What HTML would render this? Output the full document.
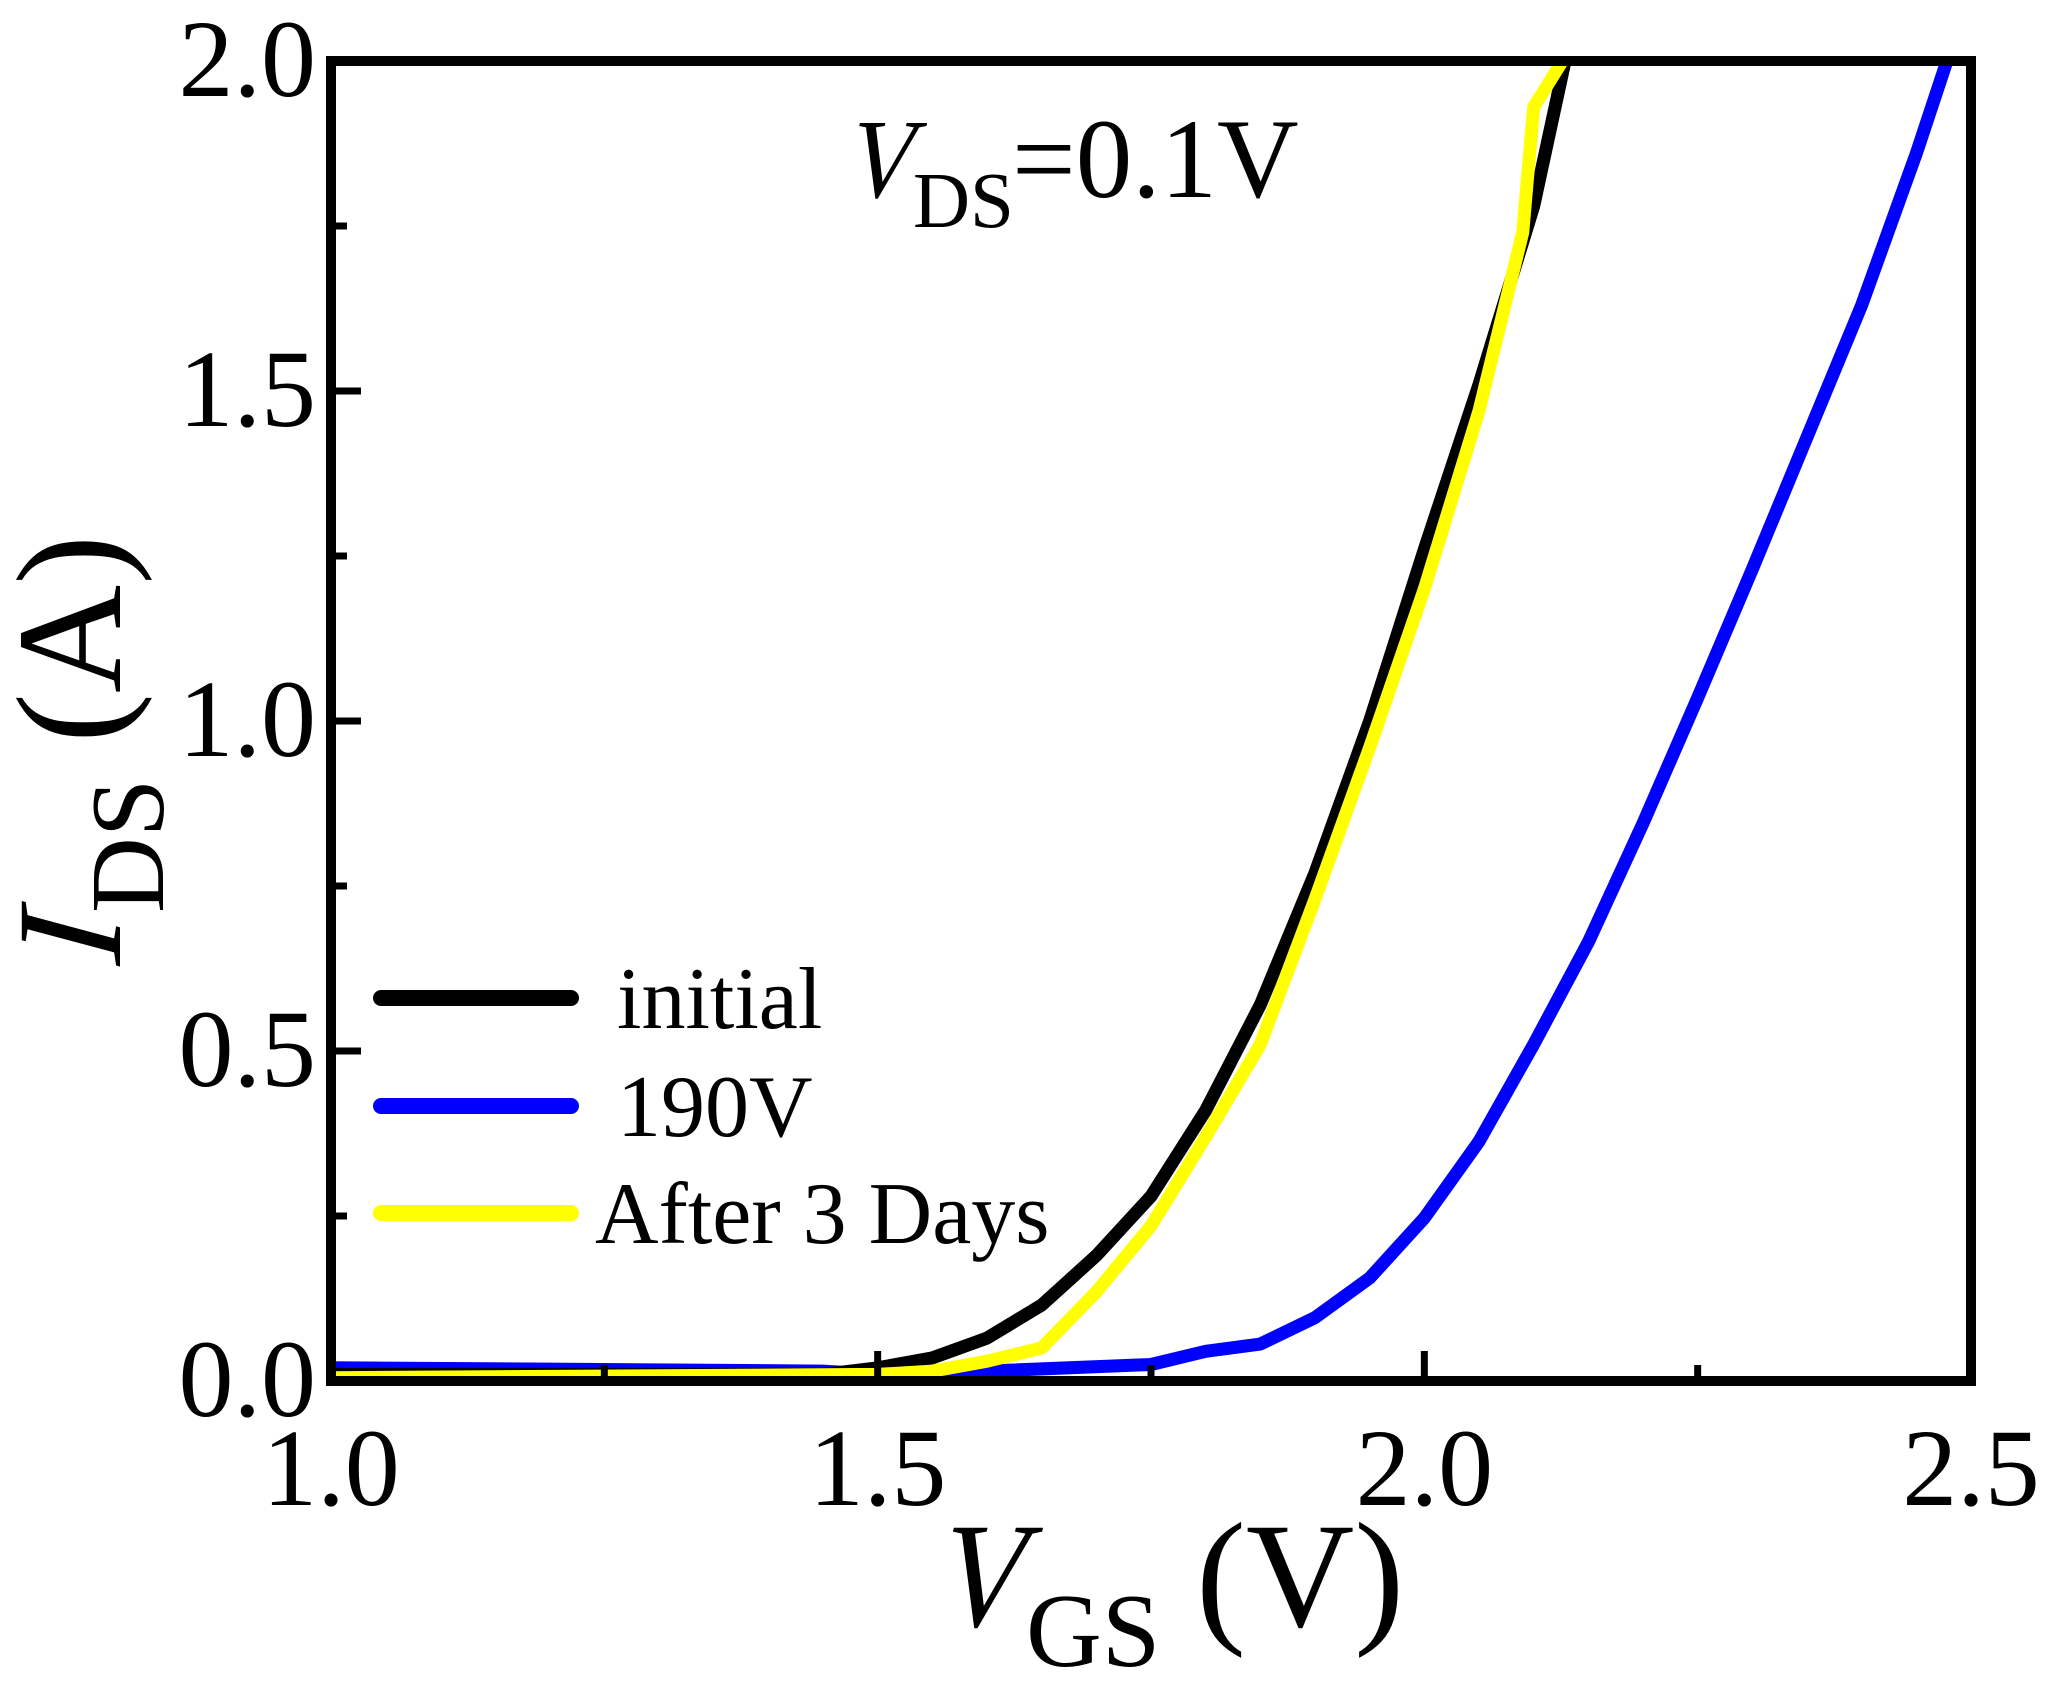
<!DOCTYPE html>
<html><head><meta charset="utf-8"><style>
html,body{margin:0;padding:0;background:#fff}
svg{display:block;font-family:"Liberation Serif",serif}
</style></head><body>
<svg id="chart" width="2072" height="1688" viewBox="0 0 2072 1688" xmlns="http://www.w3.org/2000/svg">
<defs><clipPath id="pc"><rect x="331" y="61" width="1640" height="1320"/></clipPath></defs>
<g id="series" clip-path="url(#pc)"></g>
<rect x="331" y="61" width="1640" height="1320" fill="none" stroke="#000" stroke-width="10"/>
<g id="ticks"></g>
<g>
<text transform="translate(842,197) scale(0.85,1) skewX(-15)" font-size="113">V</text>
<text x="913" y="227" font-size="79">DS</text>
<text x="1012" y="197" font-size="113">=0.1V</text>
</g>
<g>
<text transform="translate(930,1626) scale(0.85,1) skewX(-15)" font-size="150">V</text>
<text x="1026" y="1666" font-size="105">GS</text>
<text x="1196" y="1626" font-size="150">(V)</text>
</g>
<g transform="translate(120,972) rotate(-90)">
<text transform="skewX(-15)" x="0" y="0" font-size="150">I</text>
<text x="59" y="43" font-size="105">DS</text>
<text x="229" y="0" font-size="150">(A)</text>
</g>
<g>
<line x1="381" y1="998" x2="571" y2="998" stroke="#000" stroke-width="16" stroke-linecap="round"/>
<text x="617" y="1028" font-size="88">initial</text>
<line x1="381" y1="1106" x2="571" y2="1106" stroke="#0000ff" stroke-width="16" stroke-linecap="round"/>
<text x="617" y="1136" font-size="88">190V</text>
<line x1="381" y1="1213" x2="571" y2="1213" stroke="#ffff00" stroke-width="16" stroke-linecap="round"/>
<text x="595" y="1243" font-size="88">After 3 Days</text>
</g>
</svg>
<script>
const xTicks=[1.0,1.5,2.0,2.5];
const xTickLabels=["1.0","1.5","2.0","2.5"];
const yTicks=[0,0.5,1.0,1.5,2.0];
const yTickLabels=["0.0","0.5","1.0","1.5","2.0"];
const vgsInitial=[1.0,1.45,1.5,1.55,1.6,1.65,1.7,1.75,1.8,1.85,1.9,1.95,2.0,2.05,2.1,2.13];
const idsInitial=[0.01,0.01,0.02,0.035,0.065,0.115,0.19,0.28,0.41,0.57,0.77,1.0,1.26,1.51,1.78,2.01];
const vgs190=[1.0,1.2,1.45,1.55,1.6,1.75,1.8,1.85,1.9,1.95,2.0,2.05,2.1,2.15,2.2,2.25,2.3,2.35,2.4,2.45,2.48];
const ids190=[0.02,0.018,0.015,0.005,0.015,0.025,0.045,0.056,0.096,0.156,0.247,0.363,0.51,0.665,0.845,1.035,1.23,1.43,1.63,1.86,2.01];
const vgsAfter=[1.0,1.5,1.55,1.6,1.65,1.7,1.75,1.8,1.85,1.9,1.95,2.0,2.05,2.09,2.1,2.13];
const idsAfter=[0.005,0.01,0.015,0.03,0.05,0.135,0.235,0.37,0.51,0.73,0.96,1.2,1.47,1.74,1.93,2.01];
const X0=331,X1=1971,Y0=1381,Y1=61;
const xs=v=>X0+(v-1.0)/(2.5-1.0)*(X1-X0);
const ys=v=>Y0-(v-0)/(2.0-0)*(Y0-Y1);
const NS="http://www.w3.org/2000/svg";
const sg=document.getElementById('series');
function line(xa,ya,color,name){
  const p=document.createElementNS(NS,'polyline');
  p.setAttribute('points',xa.map((v,i)=>xs(v)+','+ys(ya[i])).join(' '));
  p.setAttribute('fill','none');p.setAttribute('stroke',color);
  p.setAttribute('stroke-width','13');p.setAttribute('stroke-linejoin','round');
  
  
  sg.appendChild(p);
}
line(vgs190,ids190,'#0000ff','series-190v');
line(vgsInitial,idsInitial,'#000000','series-initial');
line(vgsAfter,idsAfter,'#ffff00','series-after-3-days');
const tg=document.getElementById('ticks');
function mk(tag,attrs){const e=document.createElementNS(NS,tag);for(const k in attrs)e.setAttribute(k,attrs[k]);tg.appendChild(e);return e;}
for(let v=1.0;v<=2.5001;v+=0.25){
  const major=Math.abs(v*2-Math.round(v*2))<1e-6;
  const t=mk('line',{x1:xs(v),x2:xs(v),y1:Y0,y2:Y0-(major?30:16),stroke:'#000','stroke-width':7});
  
  
}
for(let v=0;v<=2.0001;v+=0.25){
  const major=Math.abs(v*2-Math.round(v*2))<1e-6;
  const t=mk('line',{x1:X0,x2:X0+(major?30:16),y1:ys(v),y2:ys(v),stroke:'#000','stroke-width':7});
  
  
}
xTicks.forEach((v,i)=>{
  const t=mk('text',{x:xs(v),y:1505,'font-size':110,'text-anchor':'middle'});
  t.textContent=xTickLabels[i];
  
  
});
yTicks.forEach((v,i)=>{
  const t=mk('text',{x:316,y:ys(v)+35,'font-size':110,'text-anchor':'end'});
  t.textContent=yTickLabels[i];
  
  
});
</script>
</body></html>
